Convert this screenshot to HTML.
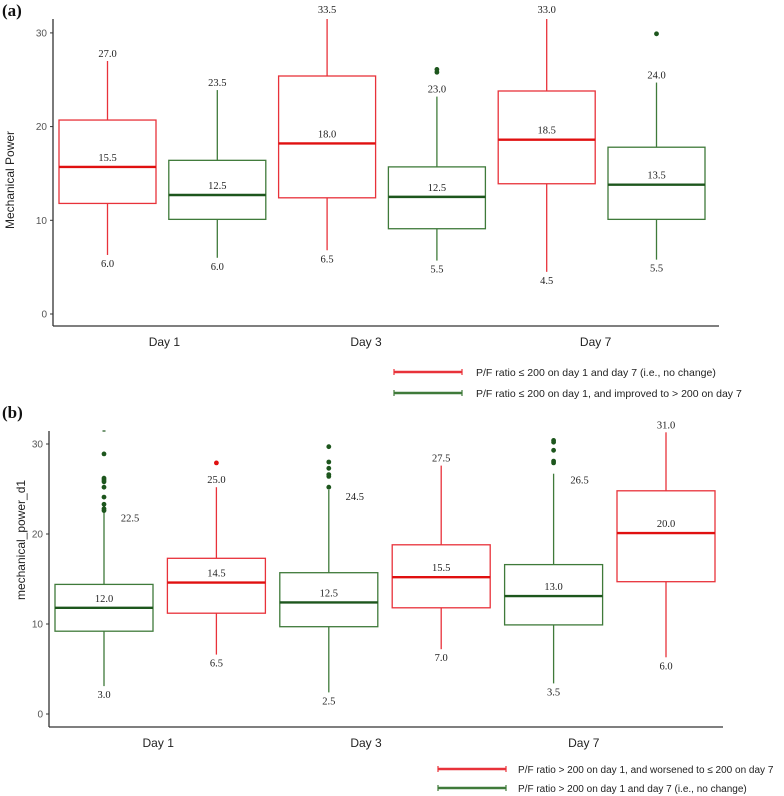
<!DOCTYPE html>
<html><head><meta charset="utf-8">
<style>
body{margin:0;background:#fff;}
svg{display:block;}
.num{font-family:"Liberation Serif",serif;font-size:10.5px;fill:#222;}
.tick{font-family:"Liberation Sans",sans-serif;font-size:10px;fill:#555;}
.xl{font-family:"Liberation Sans",sans-serif;font-size:12px;fill:#222;}
.yl{font-family:"Liberation Sans",sans-serif;font-size:12px;fill:#222;}
.lg{font-family:"Liberation Sans",sans-serif;font-size:10.5px;fill:#222;}
.pl{font-family:"Liberation Serif",serif;font-size:17px;font-weight:bold;fill:#111;}
</style></head>
<body>
<svg id="chart" width="784" height="796" viewBox="0 0 784 796" xmlns="http://www.w3.org/2000/svg"></svg>
<script>
// ---------- Panel (a) data ----------
const aCategories = ["Day 1","Day 3","Day 7"];
const aGroups = ["red","green","red","green","red","green"];
const aMin = [6.3,6.0,6.8,5.7,4.5,5.8];
const aQ1 = [11.8,10.1,12.4,9.1,13.9,10.1];
const aMed = [15.7,12.7,18.2,12.5,18.6,13.8];
const aQ3 = [20.7,16.4,25.4,15.7,23.8,17.8];
const aMax = [27.0,23.9,33.5,23.2,33.0,24.7];
const aOutliers = [[],[],[],[25.8,26.1],[],[29.9]];
const aMaxLabels = ["27.0","23.5","33.5","23.0","33.0","24.0"];
const aMedLabels = ["15.5","12.5","18.0","12.5","18.5","13.5"];
const aMinLabels = ["6.0","6.0","6.5","5.5","4.5","5.5"];
const aTicks = [0,10,20,30];
const aLegend = ["P/F ratio \u2264 200 on day 1 and day 7 (i.e., no change)","P/F ratio \u2264 200 on day 1, and improved to > 200 on day 7"];
// ---------- Panel (b) data ----------
const bCategories = ["Day 1","Day 3","Day 7"];
const bGroups = ["green","red","green","red","green","red"];
const bMin = [3.1,6.6,2.4,7.2,3.4,6.3];
const bQ1 = [9.2,11.2,9.7,11.8,9.9,14.7];
const bMed = [11.8,14.6,12.4,15.2,13.1,20.1];
const bQ3 = [14.4,17.3,15.7,18.8,16.6,24.8];
const bMax = [22.5,25.2,24.9,27.6,26.7,31.3];
const bOutliers = [[22.6,22.8,23.3,24.1,25.2,25.8,26.0,26.2,28.9,31.4],[27.9],[25.2,26.4,26.6,27.3,28.0,29.7],[],[27.9,28.1,29.3,30.2,30.4],[]];
const bMaxLabels = ["22.5","25.0","24.5","27.5","26.5","31.0"];
const bMaxSide = [true,false,true,false,true,false];
const bMedLabels = ["12.0","14.5","12.5","15.5","13.0","20.0"];
const bMinLabels = ["3.0","6.5","2.5","7.0","3.5","6.0"];
const bTicks = [0,10,20,30];
const bLegend = ["P/F ratio > 200 on day 1, and worsened to \u2264 200 on day 7","P/F ratio > 200 on day 1 and day 7 (i.e., no change)"];

const NS="http://www.w3.org/2000/svg";
const svg=document.getElementById('chart');
const COL={red:"#e8323a",green:"#3f7a3a"};
const MED={red:"#e01010",green:"#1d561d"};
function mk(tag,attrs,parent){const e=document.createElementNS(NS,tag);for(const k in attrs)e.setAttribute(k,attrs[k]);(parent||svg).appendChild(e);return e;}

function panel(cfg){
  const g=mk('g',{});
  
  
  const y=v=>cfg.y0-v*cfg.ppu;
  const x=i=>cfg.x0+i*cfg.step;
  const clampY=v=>Math.max(cfg.top,y(v));
  const pl=mk('text',{x:2,y:cfg.letterY,class:'pl'},g);pl.textContent=cfg.letter;
  
  
  const ya=mk('line',{x1:cfg.axL,y1:cfg.top,x2:cfg.axL,y2:cfg.axB,stroke:'#333','stroke-width':1.3},g);
  
  
  const xa=mk('line',{x1:cfg.axL,y1:cfg.axB,x2:cfg.axR,y2:cfg.axB,stroke:'#333','stroke-width':1.3},g);
  
  
  cfg.ticks.forEach(t=>{
    mk('line',{x1:cfg.axL-3,y1:y(t),x2:cfg.axL,y2:y(t),stroke:'#333','stroke-width':1},g);
    const tt=mk('text',{x:cfg.axL-6,y:y(t)+3.5,'text-anchor':'end',class:'tick'},g);tt.textContent=t;
    
    
  });
  cfg.cats.forEach((c,i)=>{
    const cx=(x(2*i)+x(2*i+1))/2+cfg.labShift[i];
    const t=mk('text',{x:cx,y:cfg.axB+20,'text-anchor':'middle',class:'xl'},g);t.textContent=c;
    
    
  });
  const yt=mk('text',{x:0,y:0,'text-anchor':'middle',class:'yl',transform:`translate(${cfg.ylX},${cfg.ylY}) rotate(-90)`},g);
  yt.textContent=cfg.ylabel;
  
  
  cfg.groups.forEach((grp,i)=>{
    const cx=x(i),hw=cfg.bw/2,col=COL[grp];
    const bg=mk('g',{},g);
    
    
    mk('line',{x1:cx,y1:clampY(cfg.max[i]),x2:cx,y2:y(cfg.q3[i]),stroke:col,'stroke-width':1.3},bg);
    mk('line',{x1:cx,y1:y(cfg.q1[i]),x2:cx,y2:y(cfg.min[i]),stroke:col,'stroke-width':1.3},bg);
    mk('rect',{x:cx-hw,y:y(cfg.q3[i]),width:cfg.bw,height:y(cfg.q1[i])-y(cfg.q3[i]),fill:'none',stroke:col,'stroke-width':1.3},bg);
    mk('line',{x1:cx-hw,y1:y(cfg.med[i]),x2:cx+hw,y2:y(cfg.med[i]),stroke:MED[grp],'stroke-width':2.4},bg);
    cfg.out[i].forEach(o=>{
      const fill=grp==='red'?'#e01010':'#1d561d';
      let d;
      if(y(o)<cfg.top+2){
        d=mk('line',{x1:cx-1.5,y1:cfg.top,x2:cx+1.5,y2:cfg.top,stroke:fill,'stroke-width':1.2},bg);
      }else{
        d=mk('circle',{cx:cx,cy:y(o),r:2.4,fill:fill},bg);
      }
      
      
    });
    let t;
    if(cfg.side&&cfg.side[i]){
      t=mk('text',{x:cx+26,y:y(cfg.max[i])+10,'text-anchor':'middle',class:'num'},bg);
    }else{
      t=mk('text',{x:cx,y:Math.max(cfg.top-6,y(cfg.max[i])-4),'text-anchor':'middle',class:'num'},bg);
    }
    t.textContent=cfg.maxL[i];
    
    
    const tm=mk('text',{x:cx,y:y(cfg.med[i])-6,'text-anchor':'middle',class:'num'},bg);tm.textContent=cfg.medL[i];
    
    
    const tn=mk('text',{x:cx,y:y(cfg.min[i])+12,'text-anchor':'middle',class:'num'},bg);tn.textContent=cfg.minL[i];
    
    
  });
  cfg.legend.forEach((txt,k)=>{
    const lg=mk('g',{},g);
    
    
    const ly=cfg.legY+k*cfg.legDy,col=cfg.legCols[k];
    mk('line',{x1:cfg.legX,y1:ly,x2:cfg.legX+68,y2:ly,stroke:col,'stroke-width':2.5},lg);
    mk('line',{x1:cfg.legX,y1:ly-3,x2:cfg.legX,y2:ly+3,stroke:col,'stroke-width':1.2},lg);
    mk('line',{x1:cfg.legX+68,y1:ly-3,x2:cfg.legX+68,y2:ly+3,stroke:col,'stroke-width':1.2},lg);
    const t=mk('text',{x:cfg.legX+cfg.legTx,y:ly+4,class:'lg','font-size':cfg.legFs},lg);t.textContent=txt;
    t.style.fontSize=cfg.legFs+'px';
  });
}
panel({name:'panel-a',letter:'(a)',letterY:16,y0:314,ppu:9.37,top:19,axL:53,axB:326,axR:719,x0:107.5,step:109.8,bw:97,
  ticks:aTicks,cats:aCategories,labShift:[2,-16,-6],ylabel:'Mechanical Power',ylX:14,ylY:180,
  groups:aGroups,min:aMin,q1:aQ1,med:aMed,q3:aQ3,max:aMax,out:aOutliers,maxL:aMaxLabels,medL:aMedLabels,minL:aMinLabels,
  legend:aLegend,legX:394,legY:372,legDy:21,legTx:82,legFs:10.5,legCols:[COL.red,COL.green]});
panel({name:'panel-b',letter:'(b)',letterY:418,y0:714,ppu:9.0,top:431,axL:49,axB:727,axR:723,x0:104,step:112.4,bw:98,
  ticks:bTicks,cats:bCategories,labShift:[-2,-19,-26],ylabel:'mechanical_power_d1',ylX:25,ylY:540,
  groups:bGroups,min:bMin,q1:bQ1,med:bMed,q3:bQ3,max:bMax,out:bOutliers,maxL:bMaxLabels,side:bMaxSide,medL:bMedLabels,minL:bMinLabels,
  legend:bLegend,legX:438,legY:769,legDy:19,legTx:80,legFs:10,legCols:[COL.red,COL.green]});
</script>
</body></html>
